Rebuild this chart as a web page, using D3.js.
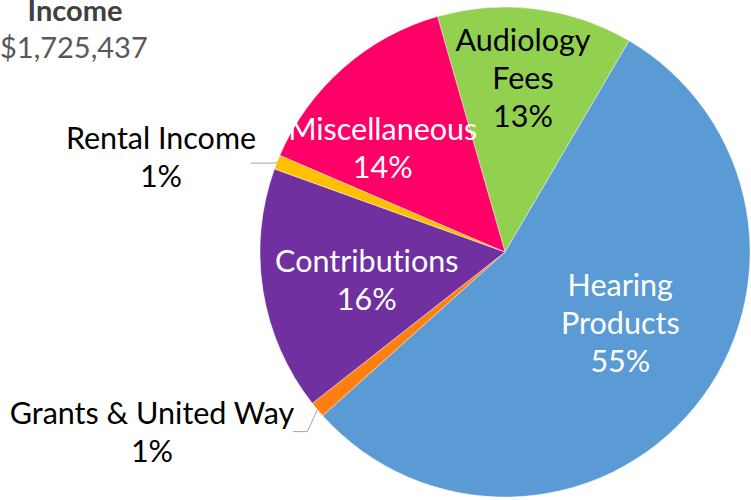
<!DOCTYPE html>
<html>
<head>
<meta charset="utf-8">
<script src="https://cdn.jsdelivr.net/npm/d3@7"></script>
<style>
  html, body { margin: 0; padding: 0; background: #fff; }
  svg { display: block; }
  text { font-variant-ligatures: none; }
</style>
</head>
<body>
<svg id="chart" width="751" height="500"></svg>
<script>
// Data (share of total income, %)
const categories = ["Audiology Fees", "Hearing Products", "Grants & United Way", "Contributions", "Rental Income", "Miscellaneous"];
const shares = [12.9, 54.9, 1.05, 16.1, 0.95, 14.1];
const colors = ["#92D050", "#5B9BD5", "#FF7F11", "#7030A0", "#FFC000", "#FF0066"];
const labelLines = [["Audiology", "Fees"], ["Hearing", "Products"], ["Grants & United Way"], ["Contributions"], ["Rental Income"], ["Miscellaneous"]];
const totalIncome = 1725437;

const fontFamily = "Lato, 'Open Sans', sans-serif";
const width = 751;
const height = 500;
const radius = 245;
const cx = 505, cy = 252;
const fontSize = 30.5;
const lineH = 38;

const data = categories.map((c, i) => ({ name: c, value: shares[i], color: colors[i], lines: labelLines[i] }));

const svg = d3.select("#chart")
  .style("font-family", fontFamily);

const pie = d3.pie()
  .sort(null)
  .value(d => d.value)
  .startAngle(-16 * Math.PI / 180)
  .endAngle(-16 * Math.PI / 180 + 2 * Math.PI);

const arcs = pie(data);

const arc = d3.arc().innerRadius(0).outerRadius(radius);
const labelArc = d3.arc().innerRadius(radius * 0.65).outerRadius(radius * 0.65);

const g = svg.append("g").attr("transform", `translate(${cx},${cy})`);

g.selectAll("path")
  .data(arcs)
  .join("path")
  .attr("d", arc)
  .attr("fill", d => d.data.color)
  .attr("stroke", "#fff")
  .attr("stroke-width", 0.4);

// inner labels: nudges off the centroid (roughly like Excel's best fit)
const nudge = {
  "Audiology Fees": [-2, -16],
  "Hearing Products": [-8, -30],
  "Contributions": [19, 3],
  "Miscellaneous": [-17, 16]
};
const darkText = { "Audiology Fees": true };
const pct = d => Math.round(d.data.value) + "%";

function drawBlock(x, y, lines, fill) {
  const n = lines.length;
  const t = svg.append("text")
    .attr("text-anchor", "middle")
    .style("font-size", fontSize + "px")
    .attr("fill", fill);
  lines.forEach((s, i) => {
    t.append("tspan")
      .attr("x", x)
      .attr("y", y - (n - 1) * lineH / 2 + i * lineH + fontSize * 0.36)
      .text(s);
  });
  return t;
}

arcs.filter(d => nudge[d.data.name]).forEach(d => {
  const [x, y] = labelArc.centroid(d);
  const [nx, ny] = nudge[d.data.name];
  drawBlock(cx + x + nx, cy + y + ny, d.data.lines.concat([pct(d)]),
    darkText[d.data.name] ? "#000" : "#fff");
});

// outside labels with leader lines
const outside = {
  "Rental Income": { lx: 161, ly: 157, elbow: [-2, 1], endX: 251 },
  "Grants & United Way": { lx: 152, ly: 432, elbow: [-10, 22], endX: 293 }
};

arcs.filter(d => outside[d.data.name]).forEach(d => {
  const o = outside[d.data.name];
  const a = (d.startAngle + d.endAngle) / 2;
  const px = cx + Math.sin(a) * radius;
  const py = cy - Math.cos(a) * radius;
  const bx = px + o.elbow[0], by = py + o.elbow[1];
  svg.append("polyline")
    .attr("points", [[px, py], [bx, by], [o.endX, by]].map(p => p.join(",")).join(" "))
    .attr("fill", "none")
    .attr("stroke", "#A6A6A6")
    .attr("stroke-width", 1);
  drawBlock(o.lx, o.ly, d.data.lines.concat([pct(d)]), "#000");
});

// title
svg.append("text")
  .attr("x", 75)
  .attr("y", 21)
  .attr("text-anchor", "middle")
  .style("font-size", "29px")
  .style("font-weight", "bold")
  .attr("fill", "#404040")
  .text("Income");

svg.append("text")
  .attr("x", 0)
  .attr("y", 58)
  .style("font-size", "29px")
  .attr("fill", "#595959")
  .text(d3.format("$,")(totalIncome));
</script>
</body>
</html>
